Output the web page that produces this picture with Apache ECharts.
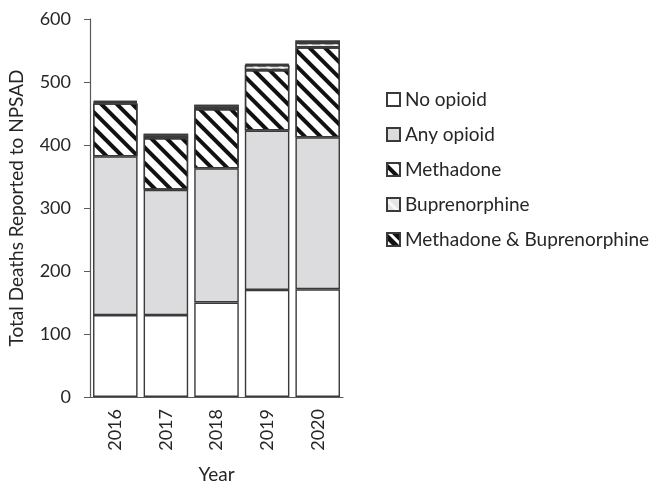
<!DOCTYPE html>
<html>
<head>
<meta charset="utf-8">
<script src="https://cdn.jsdelivr.net/npm/echarts@6/dist/echarts.min.js"></script>
<style>
  html, body { margin: 0; padding: 0; background: #fff; }
  #chart { width: 653px; height: 487px; }
</style>
</head>
<body>
<div id="chart"></div>
<script>
// values
var years = ['2016', '2017', '2018', '2019', '2020']
var noOpioid = [130, 130, 150, 170, 171]
var anyOpioid = [252, 199, 213, 253, 241]
var methadone = [84, 82, 94, 96, 143]
var buprenorphine = [2, 4, 4, 8, 7]
var methBup = [2, 3, 3, 2, 4]
var yTicks = [0, 100, 200, 300, 400, 500, 600]

var fontName = 'Lato'
var textColor = '#262626'
var lineColor = '#3a3a3a'

function makeSeries (name, data, fill, decal) {
  var s = {
    name: name,
    type: 'bar',
    stack: 'total',
    barCategoryGap: '12%',
    data: data,
    itemStyle: {
      color: fill,
      borderColor: lineColor,
      borderWidth: 1.4
    }
  }
  if (decal) s.itemStyle.decal = decal
  return s
}

var myChart = echarts.init(document.getElementById('chart'))
myChart.setOption({
  animation: false,
  textStyle: { fontFamily: fontName },
  grid: { left: 90, top: 19, right: 310, bottom: 90, outerBoundsMode: 'none', containLabel: false },
  legend: {
    orient: 'vertical',
    left: 386,
    top: 90,
    padding: 0,
    itemWidth: 13,
    itemHeight: 13,
    itemGap: 16,
    icon: 'rect',
    textStyle: { fontSize: 19, color: textColor, fontFamily: fontName },
    data: ['No opioid', 'Any opioid', 'Methadone', 'Buprenorphine', 'Methadone & Buprenorphine']
  },
  xAxis: {
    type: 'category',
    data: years,
    name: 'Year',
    nameLocation: 'middle',
    nameGap: 68,
    nameTextStyle: { fontSize: 19, color: textColor },
    axisLine: { lineStyle: { color: '#595959', width: 1.2 } },
    axisTick: { alignWithLabel: true, length: 5, lineStyle: { color: '#595959' } },
    axisLabel: { rotate: 90, fontSize: 18, color: textColor, margin: 12 }
  },
  yAxis: {
    type: 'value',
    min: 0,
    max: yTicks[yTicks.length - 1],
    interval: yTicks[1] - yTicks[0],
    name: 'Total Deaths Reported to NPSAD',
    nameLocation: 'middle',
    nameGap: 64,
    nameTextStyle: { fontSize: 19, color: textColor },
    axisLine: { show: true, lineStyle: { color: '#595959', width: 1.2 } },
    axisTick: { show: true, length: 6, lineStyle: { color: '#595959' } },
    axisLabel: { fontSize: 18, color: textColor, margin: 19 },
    splitLine: { show: false }
  },
  series: [
    makeSeries('No opioid', noOpioid, '#ffffff'),
    makeSeries('Any opioid', anyOpioid, '#dcdcde'),
    makeSeries('Methadone', methadone, '#ffffff', {
      symbol: 'rect', symbolSize: 1, color: '#111111',
      dashArrayX: [1, 0], dashArrayY: [4, 7], rotation: Math.PI / 4
    }),
    makeSeries('Buprenorphine', buprenorphine, '#e4e4e6', {
      symbol: 'rect', symbolSize: 1, color: '#f8f8f8',
      dashArrayX: [1, 0], dashArrayY: [3, 6], rotation: Math.PI / 4
    }),
    makeSeries('Methadone & Buprenorphine', methBup, '#ffffff', {
      symbol: 'rect', symbolSize: 1, color: '#111111',
      dashArrayX: [1, 0], dashArrayY: [5, 3], rotation: Math.PI / 4
    })
  ]
})
</script>
</body>
</html>
